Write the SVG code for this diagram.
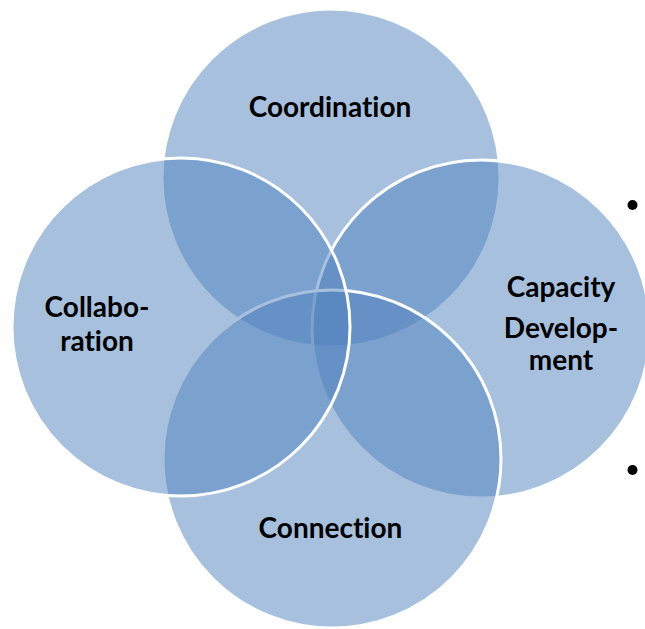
<svg xmlns="http://www.w3.org/2000/svg" width="645" height="629" viewBox="0 0 645 629">
  <style>
    .c { fill: rgba(79,129,189,0.5); stroke: #ffffff; stroke-width: 3; }
    .t { font-family: Lato, "Open Sans", "Liberation Sans", sans-serif; font-weight: bold; font-size: 28px; fill: #000000; text-anchor: middle; font-variant-ligatures: none; }
    .dot { fill: #000000; }
  </style>
  <rect width="645" height="629" fill="#ffffff"/>
  <g id="node-coordination">
    <circle class="c" cx="331" cy="178" r="169"/>
    <text class="t" x="330" y="117">Coordination</text>
  </g>
  <g id="node-capacity">
    <circle class="c" cx="481" cy="329" r="169"/>
    <text class="t" x="561" y="297">Capacity</text>
    <text class="t" x="561" y="338">Develop-</text>
    <text class="t" x="561" y="370">ment</text>
  </g>
  <g id="node-connection">
    <circle class="c" cx="332" cy="459" r="169"/>
    <text class="t" x="330.5" y="538">Connection</text>
  </g>
  <g id="node-collaboration">
    <circle class="c" cx="181" cy="327" r="169"/>
    <text class="t" x="97" y="317">Collabo-</text>
    <text class="t" x="97" y="351">ration</text>
  </g>
  <g id="connectors"></g>
  <g id="bullets">
    <circle class="dot" cx="632.5" cy="205" r="5"/>
    <circle class="dot" cx="632.5" cy="470" r="5"/>
  </g>
</svg>
